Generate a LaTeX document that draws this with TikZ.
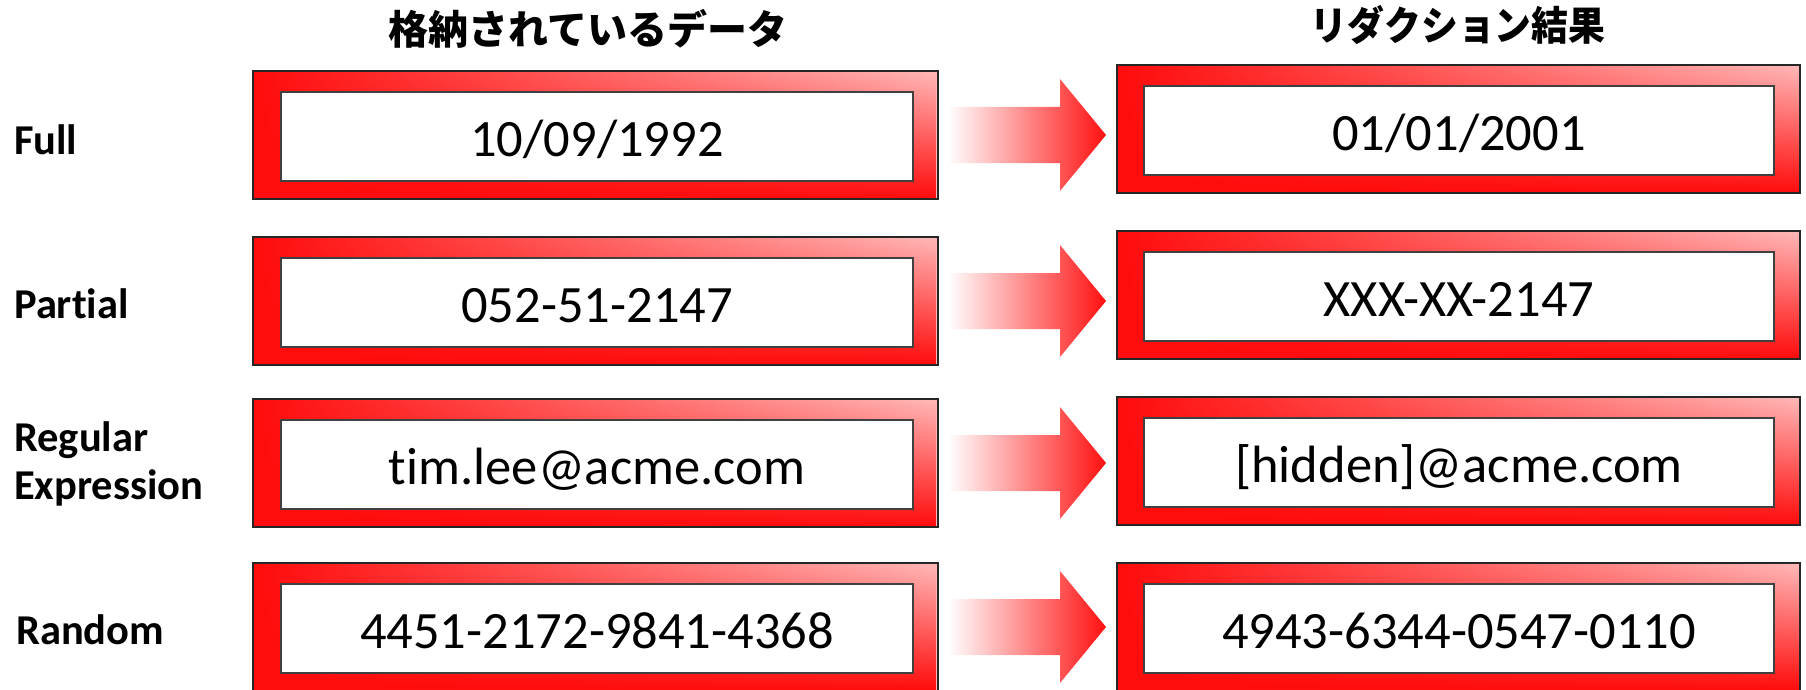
\documentclass[tikz,border=0pt]{standalone}
\usepackage{fontspec}
\setmainfont{Carlito}[Ligatures=NoCommon]
\newfontfamily\jp{Noto Sans CJK JP}
\usetikzlibrary{calc,fadings}
\definecolor{boxred}{HTML}{FF0C0C}
\definecolor{boxpink}{HTML}{FFB8B8}
\definecolor{arrred}{HTML}{FF1010}
\tikzset{
  outerbox/.style={draw=black!85, line width=2pt, left color=boxred, right color=boxpink,
    anchor=north west, inner sep=0pt, outer sep=0pt, minimum height=128pt},
  redfade/.style={fill=boxred, path fading=north},
  innerbox/.style={draw=black!75, line width=2pt, fill=white,
    anchor=north west, inner sep=0pt, outer sep=0pt, minimum height=89pt},
  valtext/.style={font=\fontsize{52.5}{52}\selectfont, anchor=base, inner sep=0pt},
  rowlabel/.style={font=\fontsize{42.5}{48}\selectfont\bfseries, anchor=base west, inner sep=0pt, align=left},
  header/.style={font=\fontsize{40}{40}\selectfont\jp\bfseries, inner sep=0pt},
  blockarrow/.style={left color=white, right color=arrred, draw=none},
}
\begin{document}
\begin{tikzpicture}[x=1pt,y=-1pt]
\useasboundingbox (0,0) rectangle (1806,690);
\clip (0,0) rectangle (1806,690);

% headers
\node[header] (h1) at (588,29) {格納されているデータ};
\node[header, xscale=0.92, transform shape] (h2) at (1458,25) {リダクション結果};

% row labels
\node[rowlabel] (lab1) at (14,154) {Full};
\node[rowlabel] (lab2) at (14,318) {Partial};
\node[rowlabel] (lab3) at (14,499) {Regular\\Expression};
\node[rowlabel] (lab4) at (16,644) {Random};

% boxes: left tops, right tops, values
\foreach \i/\lt/\rt/\lv/\rv in {1/71/65/10\slash 09\slash 1992/01\slash 01\slash 2001,
                                 2/237/231/052-51-2147/XXX-XX-2147,
                                 3/399/397/tim.lee@acme.com/[hidden]@acme.com,
                                 4/563/563/4451-2172-9841-4368/4943-6344-0547-0110}{
  \node[outerbox, minimum width=685pt] (L\i) at (253,\lt) {};
  \path[redfade] ($(L\i.north west)+(1,1)$) rectangle ($(L\i.south east)+(-1,-1)$);
  \node[innerbox, minimum width=632pt] (Li\i) at (281,\lt+21) {};
  \node[valtext] (Lt\i) at ($(Li\i.center)+(0,19.5)$) {\lv};
  \node[outerbox, minimum width=683pt] (R\i) at (1117,\rt) {};
  \path[redfade] ($(R\i.north west)+(1,1)$) rectangle ($(R\i.south east)+(-1,-1)$);
  \node[innerbox, minimum width=630pt] (Ri\i) at (1144,\rt+21) {};
  \node[valtext] (Rt\i) at ($(Ri\i.center)+(0,19.5)$) {\rv};
  \path[blockarrow] ($(L\i.east)+(10,-28)$) -- ($(L\i.east)+(122,-28)$)
     -- ($(L\i.east)+(122,-56)$) -- ($(L\i.east)+(168,0)$)
     -- ($(L\i.east)+(122,56)$) -- ($(L\i.east)+(122,28)$)
     -- ($(L\i.east)+(10,28)$) -- cycle;
}
\end{tikzpicture}
\end{document}
